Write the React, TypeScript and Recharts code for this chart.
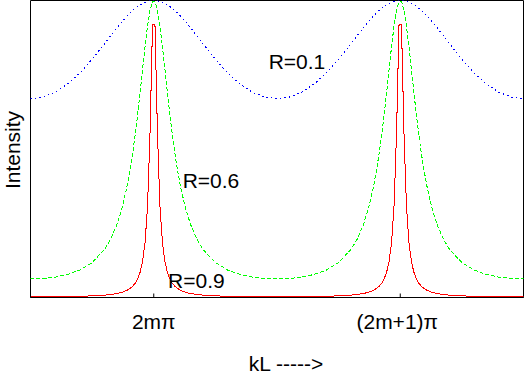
import { LineChart, Line, XAxis, YAxis, ReferenceArea, ReferenceDot } from 'recharts';

// phase kL, in units of pi, measured from the 2m*pi peak
const kL = [
  -0.5, -0.45, -0.4, -0.35, -0.3, -0.25, -0.2, -0.175, -0.15, -0.13, -0.11, -0.095, -0.085, -0.075, -0.065, -0.055, -0.045, -0.035, -0.025, -0.015, -0.005,
  0.005, 0.015, 0.025, 0.035, 0.045, 0.055, 0.065, 0.075, 0.085, 0.095, 0.11, 0.13, 0.15, 0.175, 0.2, 0.25, 0.3, 0.35, 0.4, 0.45, 0.5,
  0.55, 0.6, 0.65, 0.7, 0.75, 0.8, 0.825, 0.85, 0.87, 0.89, 0.905, 0.915, 0.925, 0.935, 0.945, 0.955, 0.965, 0.975, 0.985, 0.995,
  1.005, 1.015, 1.025, 1.035, 1.045, 1.055, 1.065, 1.075, 1.085, 1.095, 1.11, 1.13, 1.15, 1.175, 1.2, 1.25, 1.3, 1.35, 1.4, 1.45, 1.5,
];

// R = 0.1
const intensityR01 = [
  0.6694, 0.6749, 0.6912, 0.7184, 0.7557, 0.802, 0.8542, 0.8812, 0.9076, 0.9277, 0.9464, 0.9591, 0.9668, 0.9738, 0.9801, 0.9856, 0.9903, 0.9941, 0.997, 0.9989, 0.9999,
  0.9999, 0.9989, 0.997, 0.9941, 0.9903, 0.9856, 0.9801, 0.9738, 0.9668, 0.9591, 0.9464, 0.9277, 0.9076, 0.8812, 0.8542, 0.802, 0.7557, 0.7184, 0.6912, 0.6749, 0.6694,
  0.6749, 0.6912, 0.7184, 0.7557, 0.802, 0.8542, 0.8812, 0.9076, 0.9277, 0.9464, 0.9591, 0.9668, 0.9738, 0.9801, 0.9856, 0.9903, 0.9941, 0.997, 0.9989, 0.9999,
  0.9999, 0.9989, 0.997, 0.9941, 0.9903, 0.9856, 0.9801, 0.9738, 0.9668, 0.9591, 0.9464, 0.9277, 0.9076, 0.8812, 0.8542, 0.802, 0.7557, 0.7184, 0.6912, 0.6749, 0.6694,
];

// R = 0.6
const intensityR06 = [
  0.0625, 0.064, 0.0686, 0.0775, 0.0924, 0.1176, 0.1618, 0.1963, 0.2444, 0.2971, 0.3675, 0.4354, 0.4891, 0.5502, 0.6185, 0.6928, 0.7705, 0.847, 0.9155, 0.9678, 0.9963,
  0.9963, 0.9678, 0.9155, 0.847, 0.7705, 0.6928, 0.6185, 0.5502, 0.4891, 0.4354, 0.3675, 0.2971, 0.2444, 0.1963, 0.1618, 0.1176, 0.0924, 0.0775, 0.0686, 0.064, 0.0625,
  0.064, 0.0686, 0.0775, 0.0924, 0.1176, 0.1618, 0.1963, 0.2444, 0.2971, 0.3675, 0.4354, 0.4891, 0.5502, 0.6185, 0.6928, 0.7705, 0.847, 0.9155, 0.9678, 0.9963,
  0.9963, 0.9678, 0.9155, 0.847, 0.7705, 0.6928, 0.6185, 0.5502, 0.4891, 0.4354, 0.3675, 0.2971, 0.2444, 0.1963, 0.1618, 0.1176, 0.0924, 0.0775, 0.0686, 0.064, 0.0625,
];

// R = 0.9
const intensityR09 = [
  0.0028, 0.0028, 0.0031, 0.0035, 0.0042, 0.0055, 0.008, 0.0101, 0.0133, 0.0173, 0.0236, 0.0311, 0.0384, 0.0485, 0.0633, 0.0859, 0.1227, 0.1874, 0.311, 0.556, 0.918,
  0.918, 0.556, 0.311, 0.1874, 0.1227, 0.0859, 0.0633, 0.0485, 0.0384, 0.0311, 0.0236, 0.0173, 0.0133, 0.0101, 0.008, 0.0055, 0.0042, 0.0035, 0.0031, 0.0028, 0.0028,
  0.0028, 0.0031, 0.0035, 0.0042, 0.0055, 0.008, 0.0101, 0.0133, 0.0173, 0.0236, 0.0311, 0.0384, 0.0485, 0.0633, 0.0859, 0.1227, 0.1874, 0.311, 0.556, 0.918,
  0.918, 0.556, 0.311, 0.1874, 0.1227, 0.0859, 0.0633, 0.0485, 0.0384, 0.0311, 0.0236, 0.0173, 0.0133, 0.0101, 0.008, 0.0055, 0.0042, 0.0035, 0.0031, 0.0028, 0.0028,
];

const tickValues = [0, 1];
const tickLabels = ['2mπ', '(2m+1)π'];

const curveLabels = [
  { text: 'R=0.1', x: 0.581, y: 0.794 },
  { text: 'R=0.6', x: 0.232, y: 0.395 },
  { text: 'R=0.9', x: 0.173, y: 0.056 },
];

const data = kL.map((x, i) => ({
  x,
  r01: intensityR01[i],
  r06: intensityR06[i],
  r09: intensityR09[i],
}));

const FONT = '"Liberation Sans", Arial, Helvetica, sans-serif';

const Tick = ({ x, y, payload }: any) => {
  const idx = tickValues.indexOf(payload.value);
  return (
    <g>
      <line x1={x} y1={y - 4} x2={x} y2={y} stroke="#000" strokeWidth={1} />
      <text x={idx === 1 ? x - 3 : x} y={y + 31} textAnchor="middle" fontSize={21} fontFamily={FONT} fill="#000">
        {tickLabels[idx]}
      </text>
    </g>
  );
};

export default function App() {
  return (
    <div style={{ position: 'absolute', left: 0, top: 0, width: 524, height: 374, background: '#fff' }}>
      <LineChart
        width={524}
        height={374}
        data={data}
        margin={{ top: 0.5, right: 0.5, left: 0, bottom: 36.5 }}
        style={{ fontFamily: FONT }}
      >
        <ReferenceArea x1={-0.5} x2={1.5} y1={0} y2={1} fill="none" stroke="#000" strokeWidth={1} ifOverflow="visible" />
        <XAxis
          type="number"
          dataKey="x"
          domain={[-0.5, 1.5]}
          ticks={tickValues}
          allowDataOverflow
          height={40}
          tickSize={0}
          tickMargin={0}
          tick={<Tick />}
          axisLine={{ stroke: '#000' }}
          label={(props: any) => {
            const vb = props.viewBox;
            return (
              <text x={vb.x + vb.width / 2 + 9} y={371} textAnchor="middle" fontSize={21} fontFamily={FONT} fill="#000">
                kL -----&gt;
              </text>
            );
          }}
        />
        <YAxis
          type="number"
          domain={[0, 1]}
          width={30.5}
          tick={false}
          axisLine={false}
          tickLine={false}
          allowDataOverflow
          label={(props: any) => {
            const vb = props.viewBox;
            const cy = vb.y + vb.height / 2 + 1;
            return (
              <text x={20} y={cy} transform={`rotate(-90, 20, ${cy})`} textAnchor="middle" fontSize={21} fontFamily={FONT} fill="#000">
                Intensity
              </text>
            );
          }}
        />
        <Line type="linear" dataKey="r01" stroke="#0000ff" strokeWidth={1} strokeDasharray="1.5 3" shapeRendering="crispEdges" dot={false} activeDot={false} isAnimationActive={false} />
        <Line type="linear" dataKey="r06" stroke="#00ff00" strokeWidth={1} strokeDasharray="4 2" shapeRendering="crispEdges" dot={false} activeDot={false} isAnimationActive={false} />
        <Line type="linear" dataKey="r09" stroke="#ff0000" strokeWidth={1} shapeRendering="crispEdges" dot={false} activeDot={false} isAnimationActive={false} />
        {curveLabels.map((c) => (
          <ReferenceDot
            key={c.text}
            x={c.x}
            y={c.y}
            r={0}
            fill="none"
            stroke="none"
            ifOverflow="visible"
            label={{ value: c.text, position: 'center', fontSize: 21, fill: '#000', fontFamily: FONT }}
          />
        ))}
      </LineChart>
    </div>
  );
}
